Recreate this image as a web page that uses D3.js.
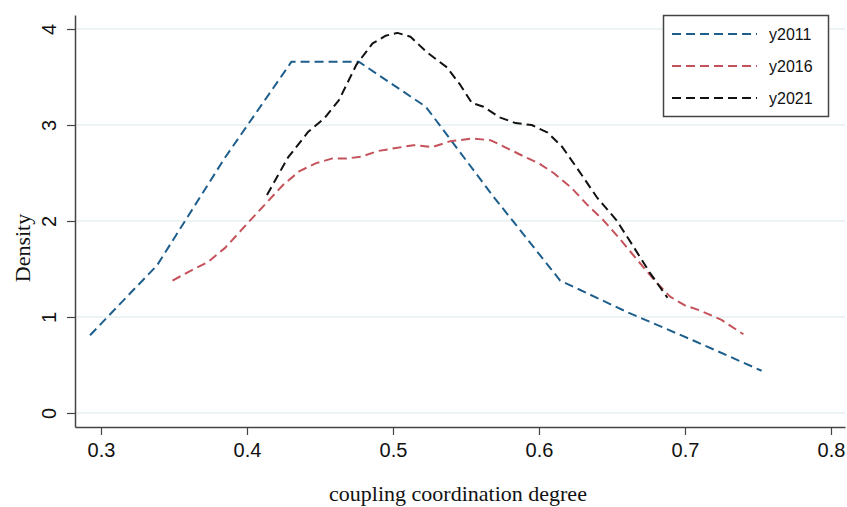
<!DOCTYPE html>
<html>
<head>
<meta charset="utf-8">
<script src="https://cdn.jsdelivr.net/npm/d3@7"></script>
<style>
  body { margin: 0; background: #fff; }
  svg { display: block; }
</style>
</head>
<body>
<svg></svg>
<script>
let svgWidth = 847;
let svgHeight = 507;

// kernel density values
let x2011 = [0.2925, 0.3385, 0.3845, 0.4305, 0.4765, 0.5225, 0.5685, 0.6145, 0.6605, 0.7065, 0.7525];
let d2011 = [0.81, 1.54, 2.65, 3.66, 3.66, 3.19, 2.26, 1.38, 1.05, 0.75, 0.44];

let x2016 = [0.349, 0.36, 0.373, 0.385, 0.40, 0.414, 0.425, 0.436, 0.447, 0.458, 0.468, 0.478,
             0.49, 0.502, 0.514, 0.527, 0.539, 0.555, 0.567, 0.578, 0.59, 0.60, 0.61, 0.622,
             0.633, 0.644, 0.655, 0.667, 0.681, 0.69, 0.70, 0.71, 0.725, 0.74];
let d2016 = [1.38, 1.47, 1.57, 1.72, 1.97, 2.2, 2.38, 2.52, 2.6, 2.65, 2.65, 2.67,
             2.73, 2.76, 2.79, 2.77, 2.83, 2.86, 2.84, 2.76, 2.67, 2.6, 2.5, 2.35,
             2.17, 2.01, 1.82, 1.6, 1.35, 1.21, 1.12, 1.07, 0.97, 0.82];

let x2021 = [0.4137, 0.428, 0.442, 0.453, 0.463, 0.475, 0.486, 0.495, 0.503, 0.512, 0.523,
             0.537, 0.546, 0.554, 0.562, 0.573, 0.584, 0.595, 0.606, 0.616, 0.627, 0.64,
             0.653, 0.664, 0.676, 0.688];
let d2021 = [2.27, 2.66, 2.93, 3.07, 3.26, 3.63, 3.85, 3.93, 3.96, 3.92, 3.76,
             3.6, 3.42, 3.23, 3.19, 3.08, 3.02, 3.0, 2.92, 2.77, 2.53, 2.24,
             2.01, 1.75, 1.46, 1.2];

let seriesNames = ["y2011", "y2016", "y2021"];
let seriesColors = ["#1d5e8c", "#c4525a", "#111111"];
let xTicks = [0.3, 0.4, 0.5, 0.6, 0.7, 0.8];
let yTicks = [0, 1, 2, 3, 4];

let series = [
  {name: seriesNames[0], xs: x2011, ds: d2011},
  {name: seriesNames[1], xs: x2016, ds: d2016},
  {name: seriesNames[2], xs: x2021, ds: d2021}
];

let plotLeft = 75, plotRight = 845, plotTop = 15, plotBottom = 427;

var svg = d3.select("svg")
  .attr("width", svgWidth)
  .attr("height", svgHeight);

let xScale = d3.scaleLinear()
  .domain([0.2822, 0.8096])
  .range([plotLeft, plotRight]);
let yScale = d3.scaleLinear()
  .domain([-0.146, 4.146])
  .range([plotBottom, plotTop]);

let color = d3.scaleOrdinal().domain(seriesNames).range(seriesColors);

// grid
svg.append("g")
  .selectAll("line")
  .data(yTicks)
  .enter()
  .append("line")
    .attr("x1", plotLeft)
    .attr("x2", plotRight)
    .attr("y1", d => yScale(d))
    .attr("y2", d => yScale(d))
    .attr("stroke", "#e6eff2")
    .attr("stroke-width", 1.5);

// axes
let xAxis = d3.axisBottom(xScale)
  .tickValues(xTicks)
  .tickFormat(d3.format(".1f"))
  .tickSize(8)
  .tickSizeOuter(0)
  .tickPadding(8);
let yAxis = d3.axisLeft(yScale)
  .tickValues(yTicks)
  .tickFormat(d3.format("d"))
  .tickSize(8)
  .tickSizeOuter(0);

let gx = svg.append("g")
  .attr("transform", `translate(0, ${plotBottom})`)
  .call(xAxis);
gx.select(".domain").attr("stroke", "#444").attr("stroke-width", 1.5);
gx.selectAll(".tick line").attr("stroke", "#444").attr("stroke-width", 1.2);
gx.selectAll(".tick text")
  .attr("font-family", "'Liberation Sans', Arial, sans-serif")
  .attr("font-size", 20)
  .attr("fill", "#111");

let gy = svg.append("g")
  .attr("transform", `translate(${plotLeft}, 0)`)
  .call(yAxis);
gy.select(".domain").attr("stroke", "#444").attr("stroke-width", 1.5);
gy.selectAll(".tick line").attr("stroke", "#444").attr("stroke-width", 1.2);
gy.selectAll(".tick text")
  .attr("font-family", "'Liberation Sans', Arial, sans-serif")
  .attr("font-size", 20)
  .attr("fill", "#111")
  .attr("x", 0)
  .attr("dy", 0)
  .attr("text-anchor", "middle")
  .attr("transform", "translate(-26, 0) rotate(-90)")
  .attr("dominant-baseline", "central");

// lines
let line = d3.line()
  .x(d => xScale(d[0]))
  .y(d => yScale(d[1]));

svg.append("g")
  .selectAll("path")
  .data(series)
  .enter()
  .append("path")
    .attr("d", s => line(d3.zip(s.xs, s.ds)))
    .attr("fill", "none")
    .attr("stroke", s => color(s.name))
    .attr("stroke-width", 2)
    .attr("stroke-dasharray", "9,5")
    .attr("stroke-linejoin", "round");

// axis titles
svg.append("text")
  .text("coupling coordination degree")
  .attr("x", 458)
  .attr("y", 501)
  .attr("font-family", "'Liberation Serif', 'Times New Roman', serif")
  .attr("font-size", 22)
  .attr("fill", "#111")
  .attr("text-anchor", "middle");

svg.append("text")
  .text("Density")
  .attr("transform", "rotate(-90)")
  .attr("x", -248)
  .attr("y", 30)
  .attr("font-family", "'Liberation Serif', 'Times New Roman', serif")
  .attr("font-size", 22)
  .attr("fill", "#111")
  .attr("text-anchor", "middle");

// legend
let legend = svg.append("g");
legend.append("rect")
  .attr("x", 663.5)
  .attr("y", 15.5)
  .attr("width", 165)
  .attr("height", 101)
  .attr("fill", "#fff")
  .attr("stroke", "#444")
  .attr("stroke-width", 1.5);

let items = legend.selectAll("g.item")
  .data(seriesNames)
  .enter()
  .append("g")
    .attr("class", "item")
    .attr("transform", (d, i) => `translate(672, ${34 + i * 32})`);
items.append("line")
  .attr("x1", 0)
  .attr("x2", 85)
  .attr("stroke", d => color(d))
  .attr("stroke-width", 2)
  .attr("stroke-dasharray", "9,5");
items.append("text")
  .text(d => d)
  .attr("x", 97)
  .attr("dy", "0.35em")
  .attr("font-family", "'Liberation Sans', Arial, sans-serif")
  .attr("font-size", 16)
  .attr("fill", "#111");
</script>
</body>
</html>
